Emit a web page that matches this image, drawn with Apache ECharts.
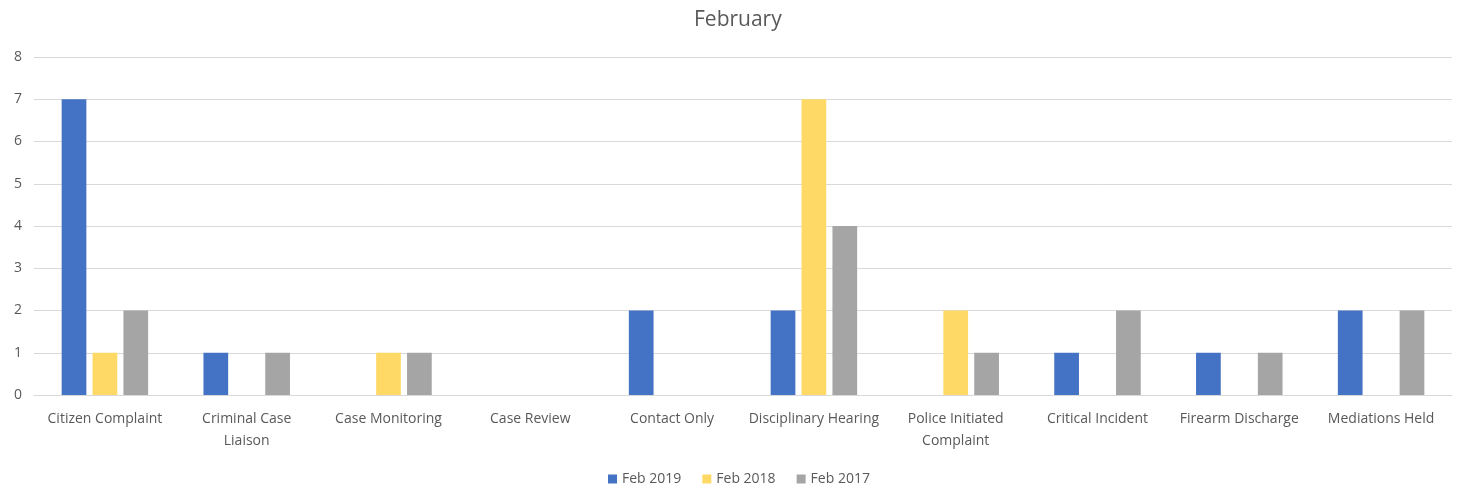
<!DOCTYPE html>
<html><head><meta charset="utf-8">
<script src="https://cdn.jsdelivr.net/npm/echarts@6/dist/echarts.min.js"></script>
<style>html,body{margin:0;padding:0;background:#fff}#c{width:1460px;height:487px}</style>
</head><body><div id="c"></div>
<script>
const categories = ["Citizen Complaint","Criminal Case\nLiaison","Case Monitoring","Case Review","Contact Only","Disciplinary Hearing","Police Initiated\nComplaint","Critical Incident","Firearm Discharge","Mediations Held"];
const feb2019 = [7,1,0,0,2,2,0,1,1,2];
const feb2018 = [1,0,1,0,0,7,2,0,0,0];
const feb2017 = [2,1,1,0,0,4,1,2,1,2];
const seriesNames = ["Feb 2019","Feb 2018","Feb 2017"];
const chart = echarts.init(document.getElementById('c'));
const font = "'Open Sans', 'Noto Sans', sans-serif";
chart.setOption({
  animation:false,
  color:['#4472C4','#FFD966','#A5A5A5'],
  title:{text:'February',left:689,top:5,textStyle:{fontFamily:font,fontSize:21,fontWeight:'normal',color:'#595959'}},
  legend:{top:467,left:603,itemWidth:9,itemHeight:9,itemGap:21,itemTextGap:4,icon:'rect',textStyle:{fontFamily:font,fontSize:14,color:'#595959'}},
  grid:{left:34,right:8,top:57,bottom:92},
  xAxis:{type:'category',data:categories,axisTick:{show:false},axisLine:{lineStyle:{color:'#D9D9D9'}},
    axisLabel:{interval:0,fontFamily:font,fontSize:14,color:'#595959',margin:13,lineHeight:22}},
  yAxis:{type:'value',min:0,max:8,interval:1,axisLine:{show:false},axisTick:{show:false},
    splitLine:{lineStyle:{color:'#D9D9D9'}},axisLabel:{fontFamily:font,fontSize:14,color:'#595959',margin:12}},
  series:[
    {name:seriesNames[0],type:'bar',data:feb2019,barGap:'25%',barCategoryGap:'39%'},
    {name:seriesNames[1],type:'bar',data:feb2018},
    {name:seriesNames[2],type:'bar',data:feb2017}
  ]
});
</script></body></html>
